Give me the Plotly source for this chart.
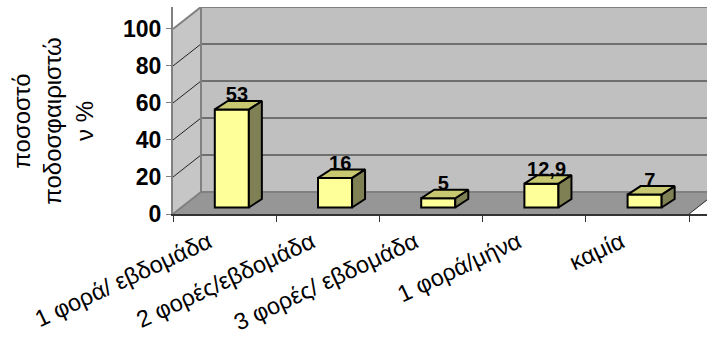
import plotly.graph_objects as go

categories = ["1 φορά/ εβδομάδα", "2 φορές/εβδομάδα", "3 φορές/ εβδομάδα", "1 φορά/μήνα", "καμία"]
values = [53, 16, 5, 12.9, 7]
value_labels = ["53", "16", "5", "12,9", "7"]
y_ticks = [0, 20, 40, 60, 80, 100]

FONT = "Liberation Sans, Arial, sans-serif"

# Oblique projection used for the pseudo-3D look, in axis units
WALL_DX, WALL_DY = 0.271, 11.86      # depth of the chart box
BAR_DX, BAR_DY = 0.126, 4.6          # depth of each column
BAR_WIDTH = 0.33
BAR_SHIFT = 0.07                     # columns stand a little way back on the floor
BAR_BASE = 3.5
LABEL_LIFT = 10.5
X_MAX = 534 / 103.2
Y_MAX = 207.5 / 1.855

n = len(categories)
fig = go.Figure()


def poly(xs, ys, fill, line=None, width=1):
    pts = " L ".join(f"{x} {y}" for x, y in zip(xs, ys))
    return dict(type="path", path=f"M {pts} Z", xref="x", yref="y", layer="below",
                fillcolor=fill, line=dict(color=line or fill, width=width))


def seg(x0, y0, x1, y1, color, width):
    return dict(type="line", x0=x0, y0=y0, x1=x1, y1=y1, xref="x", yref="y", layer="below",
                line=dict(color=color, width=width))


shapes = [
    # back wall, side wall, floor
    poly([WALL_DX, n + WALL_DX, n + WALL_DX, WALL_DX], [WALL_DY, WALL_DY, 100 + WALL_DY, 100 + WALL_DY], "#C0C0C0"),
    poly([0, WALL_DX, WALL_DX, 0], [0, WALL_DY, 100 + WALL_DY, 100], "#C6C6C6"),
    poly([0, n, n + WALL_DX, WALL_DX], [0, 0, WALL_DY, WALL_DY], "#969696"),
]
for t in y_ticks[1:-1]:
    shapes.append(seg(WALL_DX, t + WALL_DY, n + WALL_DX, t + WALL_DY, "#555555", 1.5))
    shapes.append(seg(0, t, WALL_DX, t + WALL_DY, "#222222", 1))
shapes += [
    seg(WALL_DX, 100 + WALL_DY, n + WALL_DX, 100 + WALL_DY, "#808080", 2),
    seg(WALL_DX, WALL_DY, WALL_DX, 100 + WALL_DY, "#808080", 2),
    seg(0, 100, WALL_DX, 100 + WALL_DY, "#808080", 2),
    seg(0, 0, WALL_DX, WALL_DY, "#808080", 2),
    seg(WALL_DX, WALL_DY, n + WALL_DX, WALL_DY, "#808080", 2),
    seg(n, 0, n + WALL_DX, WALL_DY, "#333333", 1),
]

# Front faces of the columns
centers = [i + 0.5 + BAR_SHIFT for i in range(n)]
fig.add_trace(go.Bar(
    x=centers, y=values, base=BAR_BASE, width=BAR_WIDTH,
    marker=dict(color="#FFFF99", line=dict(color="black", width=2)),
    hoverinfo="skip", showlegend=False,
))

# Side and top faces of the columns
for c, v in zip(centers, values):
    left, right = c - BAR_WIDTH / 2, c + BAR_WIDTH / 2
    low, high = BAR_BASE, BAR_BASE + v
    fig.add_trace(go.Scatter(
        x=[right, right + BAR_DX, right + BAR_DX, right, right],
        y=[low, low + BAR_DY, high + BAR_DY, high, low],
        mode="lines", fill="toself", fillcolor="#808055",
        line=dict(color="black", width=2), hoverinfo="skip", showlegend=False,
    ))
    fig.add_trace(go.Scatter(
        x=[left, left + BAR_DX, right + BAR_DX, right, left],
        y=[high, high + BAR_DY, high + BAR_DY, high, high],
        mode="lines", fill="toself", fillcolor="#C8C870",
        line=dict(color="black", width=2), hoverinfo="skip", showlegend=False,
    ))

# Value labels above the columns
fig.add_trace(go.Scatter(
    x=[c + 0.05 for c in centers], y=[v + LABEL_LIFT for v in values],
    mode="text", text=value_labels, textposition="middle center",
    textfont=dict(family=FONT, size=20, color="black", weight=700),
    hoverinfo="skip", showlegend=False, cliponaxis=False,
))

# Tick marks sit on the category boundaries, labels on a second axis at the centres
fig.add_trace(go.Scatter(x=[0.5], y=[0], xaxis="x2", mode="markers", opacity=0,
                         hoverinfo="skip", showlegend=False))

fig.update_layout(
    width=707, height=337, autosize=False,
    margin=dict(l=173, r=0, t=7, b=122.5, autoexpand=False),
    paper_bgcolor="white", plot_bgcolor="white",
    shapes=shapes,
    xaxis=dict(range=[0, X_MAX], tickvals=list(range(n + 1)), ticks="outside", ticklen=6, tickwidth=1,
               tickcolor="#333333", showticklabels=False, showgrid=False, zeroline=False,
               showline=True, linecolor="#333333", linewidth=2, automargin=False),
    xaxis2=dict(range=[0, X_MAX], overlaying="x", side="bottom", anchor="y",
                tickvals=[i + 0.5 for i in range(n)], ticktext=categories, tickangle=-25,
                ticks="", ticklen=0, ticklabelshift=-16, ticklabelstandoff=9, automargin=False,
                tickfont=dict(family=FONT, size=23.5, color="black"),
                showgrid=False, zeroline=False, showline=False),
    yaxis=dict(range=[0, Y_MAX], tickvals=y_ticks, ticks="outside", ticklen=5, tickwidth=1, automargin=False,
               tickcolor="#808080", tickfont=dict(family=FONT, size=23, color="black", weight=700),
               showgrid=False, zeroline=False, showline=True, linecolor="#808080", linewidth=2),
    annotations=[dict(
        text="ποσοστό<br>ποδοσφαιριστώ<br>ν %", textangle=-90, showarrow=False,
        xref="paper", yref="paper", x=-173 / 534 + 53 / 534, y=(214.5 - 121) / 207.5,
        xanchor="center", yanchor="middle", align="center",
        font=dict(family=FONT, size=24, color="black"),
    )],
)

fig.write_html("out.html")
